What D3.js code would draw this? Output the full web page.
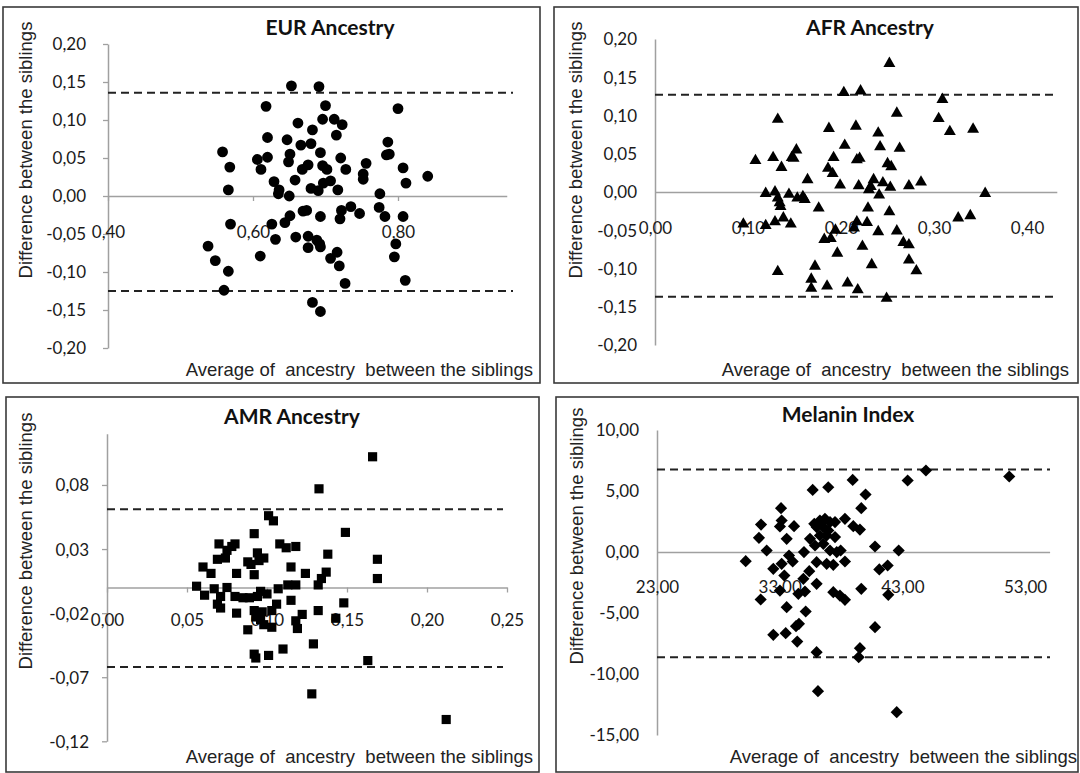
<!DOCTYPE html>
<html>
<head>
<meta charset="utf-8">
<script src="https://cdn.jsdelivr.net/npm/d3@7"></script>
<style>
  html, body { margin: 0; padding: 0; background: #fff; }
  svg { display: block; }
</style>
</head>
<body>
<svg id="chart" width="1080" height="773"></svg>
<script>
// ---------------- DATA ----------------
// EUR Ancestry
const eurX = [0.653,0.691,0.618,0.700,0.800,0.696,0.712,0.662,0.723,0.682,0.715,0.620,0.647,0.786,0.666,0.680,0.558,0.693,0.651,0.620,0.606,0.721,0.784,0.788,0.649,0.568,0.611,0.676,0.668,0.696,0.702,0.728,0.756,0.807,0.752,0.752,0.841,0.629,0.658,0.707,0.697,0.811,0.566,0.636,0.680,0.690,0.717,0.635,0.650,0.775,0.735,0.722,0.669,0.674,0.774,0.747,0.651,0.693,0.720,0.782,0.807,0.644,0.569,0.626,0.631,0.659,0.676,0.688,0.692,0.676,0.693,0.797,0.538,0.610,0.716,0.707,0.795,0.548,0.719,0.566,0.727,0.810,0.560,0.682,0.693];
const eurY = [0.145,0.144,0.118,0.119,0.115,0.101,0.101,0.096,0.094,0.087,0.080,0.077,0.074,0.071,0.067,0.069,0.058,0.057,0.055,0.051,0.048,0.050,0.054,0.055,0.045,0.038,0.035,0.041,0.035,0.040,0.035,0.035,0.043,0.037,0.029,0.022,0.026,0.019,0.021,0.020,0.017,0.017,0.008,0.008,0.010,0.007,0.008,0.003,0.000,0.003,-0.014,-0.019,-0.020,-0.019,-0.015,-0.023,-0.026,-0.027,-0.030,-0.027,-0.027,-0.035,-0.037,-0.037,-0.057,-0.054,-0.053,-0.058,-0.063,-0.068,-0.067,-0.063,-0.066,-0.079,-0.074,-0.082,-0.080,-0.085,-0.092,-0.099,-0.115,-0.111,-0.124,-0.140,-0.152];
const eurLimits = [0.136, -0.125];
const eurXTicks = [0.40, 0.60, 0.80];
const eurYTicks = [-0.20, -0.15, -0.10, -0.05, 0.00, 0.05, 0.10, 0.15, 0.20];

// AFR Ancestry
const afrX = [0.252,0.203,0.221,0.309,0.260,0.305,0.132,0.187,0.216,0.317,0.342,0.240,0.204,0.242,0.263,0.152,0.108,0.127,0.147,0.149,0.192,0.217,0.220,0.250,0.254,0.136,0.186,0.191,0.164,0.286,0.199,0.219,0.232,0.235,0.245,0.253,0.273,0.230,0.241,0.119,0.129,0.132,0.144,0.153,0.159,0.161,0.134,0.135,0.355,0.176,0.229,0.252,0.119,0.129,0.138,0.146,0.217,0.228,0.214,0.326,0.339,0.194,0.240,0.260,0.182,0.189,0.267,0.273,0.223,0.196,0.273,0.233,0.172,0.281,0.132,0.168,0.168,0.185,0.207,0.218,0.249,0.095];
const afrY = [0.168,0.130,0.132,0.121,0.103,0.096,0.095,0.083,0.086,0.079,0.082,0.077,0.061,0.059,0.057,0.055,0.041,0.045,0.045,0.044,0.045,0.042,0.044,0.037,0.033,0.032,0.031,0.024,0.016,0.013,0.009,0.008,0.007,0.016,0.012,0.006,0.008,0.003,-0.004,-0.002,0.000,-0.008,-0.003,-0.008,-0.006,-0.010,-0.014,-0.019,-0.002,-0.021,-0.021,-0.026,-0.044,-0.039,-0.034,-0.042,-0.039,-0.040,-0.047,-0.034,-0.031,-0.050,-0.052,-0.051,-0.062,-0.061,-0.066,-0.069,-0.071,-0.080,-0.089,-0.095,-0.097,-0.103,-0.104,-0.114,-0.126,-0.123,-0.119,-0.128,-0.139,-0.042];
const afrLimits = [0.127, -0.137];
const afrXTicks = [0.00, 0.10, 0.20, 0.30, 0.40];
const afrYTicks = [-0.20, -0.15, -0.10, -0.05, 0.00, 0.05, 0.10, 0.15, 0.20];

// AMR Ancestry
const amrX = [0.166,0.1325,0.101,0.104,0.149,0.092,0.070,0.080,0.108,0.112,0.118,0.075,0.078,0.138,0.169,0.069,0.074,0.094,0.088,0.095,0.098,0.090,0.060,0.065,0.081,0.115,0.092,0.124,0.137,0.134,0.169,0.132,0.056,0.061,0.067,0.075,0.071,0.080,0.085,0.089,0.094,0.096,0.100,0.107,0.113,0.118,0.069,0.071,0.106,0.115,0.148,0.081,0.092,0.097,0.103,0.093,0.096,0.098,0.103,0.088,0.122,0.118,0.119,0.132,0.143,0.129,0.110,0.092,0.093,0.101,0.163,0.128,0.212];
const amrY = [0.102,0.077,0.056,0.052,0.043,0.042,0.034,0.034,0.034,0.031,0.032,0.029,0.032,0.026,0.022,0.022,0.023,0.027,0.020,0.021,0.023,0.018,0.016,0.011,0.011,0.016,0.010,0.011,0.012,0.007,0.007,0.002,0.001,-0.006,-0.001,0.000,-0.007,-0.007,-0.008,-0.008,-0.007,-0.003,-0.005,-0.001,0.002,0.002,-0.013,-0.016,-0.013,-0.010,-0.012,-0.020,-0.018,-0.019,-0.018,-0.023,-0.025,-0.029,-0.031,-0.033,-0.021,-0.026,-0.032,-0.018,-0.024,-0.044,-0.048,-0.052,-0.055,-0.053,-0.057,-0.083,-0.103];
const amrLimits = [0.061, -0.062];
const amrXTicks = [0.00, 0.05, 0.10, 0.15, 0.20, 0.25];
const amrYTicks = [-0.12, -0.07, -0.02, 0.03, 0.08];

// Melanin Index
const melX = [44.92,43.43,38.95,36.96,35.69,40.00,33.11,39.65,31.48,33.16,33.02,34.17,35.82,36.28,36.69,37.10,37.51,38.32,36.01,36.56,36.96,39.00,39.54,31.31,33.57,35.47,36.28,36.83,37.51,35.88,36.56,31.94,34.98,37.10,37.65,37.97,40.77,42.70,30.23,33.76,34.06,32.48,33.16,36.01,36.83,37.37,38.32,35.41,41.12,41.80,33.38,34.93,33.02,36.01,34.52,35.06,31.45,37.37,37.91,38.32,39.65,41.85,33.57,35.12,34.57,34.33,32.48,33.49,34.43,40.77,36.01,39.54,39.44,36.12,42.54,51.71];
const melY = [6.68,5.86,5.91,5.31,5.09,4.71,3.59,3.59,2.25,2.58,2.09,2.12,2.31,2.58,2.72,2.45,2.45,2.72,2.04,2.04,1.76,2.12,1.84,1.16,1.08,1.08,1.35,1.35,1.22,0.53,0.67,0.12,-0.01,0.12,-0.01,0.12,0.45,0.12,-0.75,-0.29,-0.78,-1.38,-0.97,-0.83,-0.97,-1.05,-0.78,-1.57,-1.43,-1.11,-1.93,-2.20,-3.16,-2.61,-3.43,-3.24,-3.89,-3.29,-3.57,-3.92,-3.02,-3.51,-4.52,-4.88,-5.89,-6.08,-6.79,-6.65,-7.34,-6.16,-8.21,-7.88,-8.62,-11.41,-13.13,6.19];
const melLimits = [6.76, -8.62];
const melXTicks = [23, 33, 43, 53];
const melYTicks = [-15, -10, -5, 0, 5, 10];

const yTitleText = "Difference between the siblings";
const xTitleText = "Average of  ancestry  between the siblings";

// ---------------- LAYOUT ----------------
const panels = [
  { title: "EUR Ancestry", xs: eurX, ys: eurY, limits: eurLimits, xTicks: eurXTicks, yTicks: eurYTicks, symbol: "circle",
    box: [3, 7, 540, 383], xDomain: [0.40, 0.95], xRange: [108, 506.75], yDomain: [-0.20, 0.20], yRange: [348, 44],
    xLabelY: 232, tickMarks: true, titleX: 330, titleY: 35, yTitlePos: [26, 150], xTitlePos: [533, 376], dashEnd: 513 },
  { title: "AFR Ancestry", xs: afrX, ys: afrY, limits: afrLimits, xTicks: afrXTicks, yTicks: afrYTicks, symbol: "triangle",
    box: [554, 7, 1078, 383], xDomain: [0, 0.432], xRange: [655, 1056.8], yDomain: [-0.20, 0.20], yRange: [345, 39],
    xLabelY: 228, tickMarks: false, titleX: 870, titleY: 35, yTitlePos: [576, 150], xTitlePos: [1069, 376], dashEnd: 1057 },
  { title: "AMR Ancestry", xs: amrX, ys: amrY, limits: amrLimits, xTicks: amrXTicks, yTicks: amrYTicks, symbol: "square",
    box: [6, 397, 539, 772], xDomain: [0, 0.25], xRange: [107, 507], yDomain: [-0.12, 0.12], yRange: [741.3, 433.7],
    xLabelY: 620, tickMarks: true, titleX: 292, titleY: 424, yTitlePos: [26, 541], xTitlePos: [533, 763], dashEnd: 503 },
  { title: "Melanin Index", xs: melX, ys: melY, limits: melLimits, xTicks: melXTicks, yTicks: melYTicks, symbol: "diamond",
    box: [556, 397, 1078, 772], xDomain: [23, 55], xRange: [657, 1049.6], yDomain: [-15, 10], yRange: [735, 430],
    xLabelY: 587, tickMarks: false, titleX: 848, titleY: 422, yTitlePos: [577, 536], xTitlePos: [1077, 763], dashEnd: 1050 }
];

function fmt(v) {
  const s = Math.abs(v).toFixed(2).replace(".", ",");
  return (v < -1e-9 ? "-" : "") + s;
}

const svg = d3.select("#chart");
const tickFont = "Lato, 'Open Sans', sans-serif";
const titleFont = "Lato, 'Open Sans', sans-serif";
const axisTitleFont = "'Liberation Sans', Arial, sans-serif";

const symbolGen = {
  circle: d3.symbol().type(d3.symbolCircle).size(92),
  triangle: d3.symbol().type(d3.symbolTriangle).size(62),
  square: d3.symbol().type(d3.symbolSquare).size(84),
  diamond: d3.symbol().type(d3.symbolSquare).size(74)
};

panels.forEach(p => {
  const g = svg.append("g");
  const [bx0, by0, bx1, by1] = p.box;
  g.append("rect")
    .attr("x", bx0).attr("y", by0)
    .attr("width", bx1 - bx0).attr("height", by1 - by0)
    .attr("fill", "#fff").attr("stroke", "#3a3a3a").attr("stroke-width", 1.6);

  const x = d3.scaleLinear().domain(p.xDomain).range(p.xRange);
  const y = d3.scaleLinear().domain(p.yDomain).range(p.yRange);
  const x0 = x(p.xDomain[0]);
  const y0 = y(0);

  // Y axis (vertical at x domain start)
  const yAxis = d3.axisLeft(y).tickValues(p.yTicks).tickFormat(fmt)
    .tickSizeInner(p.tickMarks ? 5 : 0).tickSizeOuter(0).tickPadding(0);
  const yg = g.append("g").attr("transform", `translate(${x0},0)`).call(yAxis);
  yg.select(".domain").attr("stroke", "#a0a0a0").attr("stroke-width", 1.5);
  yg.selectAll(".tick line").attr("stroke", "#a0a0a0").attr("stroke-width", 1.3);
  yg.selectAll(".tick text")
    .attr("x", 83 + bx0 - x0)
    .attr("dy", "0.35em")
    .attr("text-anchor", "end")
    .attr("fill", "#1a1a1a")
    .style("font-family", tickFont).style("font-size", "17px");

  // X axis (horizontal line at y = 0)
  const xAxis = d3.axisBottom(x).tickValues(p.xTicks).tickFormat(fmt)
    .tickSizeInner(p.tickMarks ? 5 : 0).tickSizeOuter(0).tickPadding(0);
  const xg = g.append("g").attr("transform", `translate(0,${y0})`).call(xAxis);
  xg.select(".domain").attr("stroke", "#a0a0a0").attr("stroke-width", 1.5);
  xg.selectAll(".tick line").attr("stroke", "#a0a0a0").attr("stroke-width", 1.3);
  xg.selectAll(".tick text")
    .attr("y", p.xLabelY - y0)
    .attr("dy", "0.35em")
    .attr("fill", "#1a1a1a")
    .style("font-family", tickFont).style("font-size", "17px");

  // Limits of agreement (dashed)
  g.selectAll("line.limit").data(p.limits).enter().append("line")
    .attr("class", "limit")
    .attr("x1", x0).attr("x2", p.dashEnd)
    .attr("y1", d => y(d)).attr("y2", d => y(d))
    .attr("stroke", "#222").attr("stroke-width", 2)
    .attr("stroke-dasharray", "8,5");

  // Points
  const pts = p.xs.map((v, i) => [v, p.ys[i]]);
  g.selectAll("path.pt").data(pts).enter().append("path")
    .attr("class", "pt")
    .attr("d", symbolGen[p.symbol])
    .attr("transform", d => `translate(${x(d[0])},${y(d[1])})` + (p.symbol === "diamond" ? " rotate(45)" : ""))
    .attr("fill", "#000");

  // Title
  g.append("text").attr("x", p.titleX).attr("y", p.titleY)
    .attr("text-anchor", "middle")
    .style("font-family", titleFont).style("font-weight", "bold").style("font-size", "21px")
    .attr("fill", "#111").text(p.title);

  // Y axis title
  g.append("text")
    .attr("transform", `translate(${p.yTitlePos[0]},${p.yTitlePos[1]}) rotate(-90)`)
    .attr("text-anchor", "middle").attr("dy", "0.35em")
    .style("font-family", axisTitleFont).style("font-size", "18.5px")
    .attr("fill", "#222").text(yTitleText);

  // X axis title
  g.append("text")
    .attr("x", p.xTitlePos[0]).attr("y", p.xTitlePos[1])
    .attr("text-anchor", "end")
    .style("font-family", axisTitleFont).style("font-size", "18.5px")
    .style("white-space", "pre").attr("xml:space", "preserve")
    .attr("fill", "#222").text(xTitleText);
});
</script>
</body>
</html>
